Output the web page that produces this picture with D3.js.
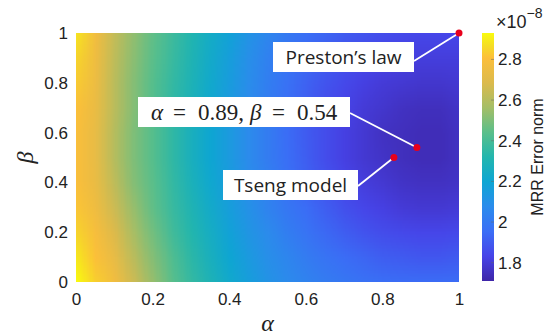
<!DOCTYPE html>
<html>
<head>
<meta charset="utf-8">
<script src="https://cdn.jsdelivr.net/npm/d3@7"></script>
<style>
  body { margin: 0; background: #fff; }
  svg text { font-family: "Liberation Sans", Arial, sans-serif; fill: #222; }
</style>
</head>
<body>
<svg id="chart" width="554" height="335"></svg>
<script>
// grid of the sweep (alpha across, beta from top row to bottom row)
const alphaGrid = [0, 0.05, 0.1, 0.15, 0.2, 0.25, 0.3, 0.35, 0.4, 0.45, 0.5,
                   0.55, 0.6, 0.65, 0.7, 0.75, 0.8, 0.85, 0.9, 0.95, 1];
const betaGrid = [1, 0.9, 0.8, 0.7, 0.6, 0.5, 0.4, 0.3, 0.2, 0.1, 0];

// MRR error norm, x1e-8, one row per beta
const errorNorm = [
  [2.88, 2.77, 2.63, 2.53, 2.45, 2.38, 2.31, 2.24, 2.18, 2.11, 2.05, 2.00, 1.96, 1.93, 1.90, 1.88, 1.86, 1.85, 1.84, 1.84, 1.84],
  [2.85, 2.76, 2.62, 2.52, 2.44, 2.37, 2.30, 2.23, 2.16, 2.09, 2.03, 1.98, 1.94, 1.90, 1.87, 1.85, 1.83, 1.82, 1.81, 1.81, 1.81],
  [2.83, 2.75, 2.61, 2.51, 2.43, 2.36, 2.29, 2.22, 2.15, 2.08, 2.02, 1.97, 1.92, 1.88, 1.85, 1.82, 1.80, 1.79, 1.78, 1.78, 1.79],
  [2.81, 2.74, 2.61, 2.51, 2.43, 2.35, 2.28, 2.21, 2.14, 2.07, 2.01, 1.96, 1.91, 1.86, 1.83, 1.80, 1.78, 1.76, 1.75, 1.75, 1.77],
  [2.80, 2.73, 2.60, 2.50, 2.43, 2.35, 2.27, 2.20, 2.14, 2.07, 2.01, 1.95, 1.90, 1.86, 1.82, 1.79, 1.76, 1.75, 1.74, 1.74, 1.76],
  [2.80, 2.73, 2.60, 2.50, 2.43, 2.35, 2.27, 2.20, 2.14, 2.07, 2.01, 1.96, 1.91, 1.86, 1.82, 1.79, 1.77, 1.75, 1.74, 1.74, 1.76],
  [2.80, 2.74, 2.62, 2.51, 2.44, 2.36, 2.28, 2.21, 2.15, 2.08, 2.03, 1.97, 1.92, 1.88, 1.84, 1.81, 1.79, 1.77, 1.76, 1.76, 1.77],
  [2.82, 2.76, 2.65, 2.54, 2.45, 2.37, 2.30, 2.23, 2.16, 2.10, 2.04, 1.99, 1.95, 1.91, 1.87, 1.84, 1.82, 1.80, 1.79, 1.79, 1.80],
  [2.85, 2.79, 2.69, 2.57, 2.48, 2.39, 2.32, 2.25, 2.18, 2.12, 2.07, 2.02, 1.98, 1.94, 1.91, 1.88, 1.86, 1.85, 1.84, 1.84, 1.85],
  [2.89, 2.81, 2.73, 2.61, 2.51, 2.42, 2.34, 2.27, 2.20, 2.14, 2.09, 2.05, 2.01, 1.98, 1.95, 1.93, 1.91, 1.90, 1.89, 1.89, 1.90],
  [2.93, 2.84, 2.77, 2.65, 2.54, 2.44, 2.36, 2.29, 2.22, 2.16, 2.11, 2.07, 2.04, 2.01, 1.99, 1.97, 1.96, 1.95, 1.95, 1.95, 1.95]
];

const axisTicks = [0, 0.2, 0.4, 0.6, 0.8, 1];
const colorTicks = [1.8, 2, 2.2, 2.4, 2.6, 2.8];
const colorDomain = [1.71, 2.93];

// highlighted parameter pairs
const markerAlpha = [1, 0.89, 0.83];
const markerBeta = [1, 0.54, 0.5];
const markerLabels = ['Preston\u2019s law', 'alpha-beta', 'Tseng model'];

// parula-like stops
const parulaStops = [0, 0.1, 0.2, 0.3, 0.4, 0.5, 0.6, 0.7, 0.8, 0.9, 0.95, 1];
const parulaColors = ['#3e26a8', '#4743e8', '#3b6ef6', '#2b8cec', '#0ea6d3', '#23b6ad',
                      '#5bbf8a', '#a5be66', '#dcba4c', '#fcbf3a', '#f5de24', '#f9fb0e'];

const svg = d3.select('#chart');
const plot = {left: 76, right: 459, top: 33, bottom: 282};

const x = d3.scaleLinear().domain([0, 1]).range([plot.left, plot.right]);
const y = d3.scaleLinear().domain([0, 1]).range([plot.bottom, plot.top]);
const t = d3.scaleLinear().domain(colorDomain).range([0, 1]);
const parula = d3.scaleLinear().domain(parulaStops).range(parulaColors).clamp(true);
const color = v => parula(t(v));

// heat map: one canvas pixel per grid cell, smoothed when scaled up
const canvas = document.createElement('canvas');
canvas.width = alphaGrid.length;
canvas.height = betaGrid.length;
const ctx = canvas.getContext('2d');
errorNorm.forEach((row, j) => row.forEach((v, i) => {
  ctx.fillStyle = color(v);
  ctx.fillRect(i, j, 1, 1);
}));

const halfA = (alphaGrid[1] - alphaGrid[0]) / 2;
const halfB = (betaGrid[0] - betaGrid[1]) / 2;

svg.append('defs').append('clipPath')
  .attr('id', 'plot-clip')
  .append('rect')
  .attr('x', x(0)).attr('y', y(1))
  .attr('width', x(1) - x(0)).attr('height', y(0) - y(1));

svg.append('g')
  .attr('clip-path', 'url(#plot-clip)')
  .append('image')
  .attr('href', canvas.toDataURL())
  .attr('preserveAspectRatio', 'none')
  .attr('x', x(alphaGrid[0] - halfA))
  .attr('y', y(betaGrid[0] + halfB))
  .attr('width', x(1 + halfA) - x(-halfA))
  .attr('height', y(-halfB) - y(1 + halfB))
  .style('image-rendering', 'auto');

// axis tick labels
const xAxis = svg.append('g')
  .attr('transform', `translate(0, ${plot.bottom})`)
  .call(d3.axisBottom(x).tickValues(axisTicks).tickFormat(d3.format('')).tickSize(0).tickPadding(11));
const yAxis = svg.append('g')
  .attr('transform', `translate(${plot.left}, 0)`)
  .call(d3.axisLeft(y).tickValues(axisTicks).tickFormat(d3.format('')).tickSize(0).tickPadding(8));
[xAxis, yAxis].forEach(g => {
  g.select('.domain').remove();
  g.selectAll('text').attr('fill', '#222').style('font-size', '17px')
    .style('font-family', '"Liberation Sans", Arial, sans-serif');
});

// axis titles
svg.append('text')
  .attr('x', x(0.5)).attr('y', 331)
  .attr('text-anchor', 'middle')
  .style('font-family', '"Liberation Serif", serif')
  .style('font-style', 'italic')
  .style('font-size', '24px')
  .text('\u03b1');
svg.append('text')
  .attr('transform', `translate(33, ${y(0.5)}) rotate(-90)`)
  .attr('text-anchor', 'middle')
  .style('font-family', '"Liberation Serif", serif')
  .style('font-style', 'italic')
  .style('font-size', '24px')
  .text('\u03b2');

// colorbar
const cb = d3.scaleLinear().domain(colorDomain).range([281, 33]);
const grad = svg.select('defs').append('linearGradient')
  .attr('id', 'cb-grad')
  .attr('x1', 0).attr('y1', 1).attr('x2', 0).attr('y2', 0);
grad.selectAll('stop')
  .data(parulaStops)
  .join('stop')
  .attr('offset', d => d)
  .attr('stop-color', (d, i) => parulaColors[i]);

svg.append('rect')
  .attr('x', 482).attr('y', cb(colorDomain[1]))
  .attr('width', 12).attr('height', cb(colorDomain[0]) - cb(colorDomain[1]))
  .attr('fill', 'url(#cb-grad)');

const cbAxis = svg.append('g')
  .attr('transform', 'translate(494, 0)')
  .call(d3.axisRight(cb).tickValues(colorTicks).tickFormat(d3.format('')).tickSize(0).tickPadding(4));
cbAxis.select('.domain').remove();
cbAxis.selectAll('text').attr('fill', '#222').style('font-size', '17px')
  .style('font-family', '"Liberation Sans", Arial, sans-serif');
svg.append('g').selectAll('line')
  .data(colorTicks)
  .join('line')
  .attr('x1', 491).attr('x2', 494)
  .attr('y1', d => cb(d)).attr('y2', d => cb(d))
  .attr('stroke', '#666').attr('stroke-opacity', 0.5);

const expo = svg.append('text')
  .attr('x', 496).attr('y', 28)
  .style('font-size', '18px');
expo.append('tspan').text('\u00d710');
expo.append('tspan').attr('dy', -10).style('font-size', '14px').text('\u22128');

svg.append('text')
  .attr('transform', `translate(543, ${cb(2.32)}) rotate(-90)`)
  .attr('text-anchor', 'middle')
  .style('font-size', '16px')
  .text('MRR Error norm');

// annotation boxes (pixel layout) with leader lines to the points
const boxes = [
  {x: 273, y: 42, w: 141, h: 30, lx: 414, ly: 61},
  {x: 138, y: 97, w: 212, h: 30, lx: 350, ly: 113},
  {x: 223, y: 170, w: 135, h: 30, lx: 358, ly: 186}
];

const notes = svg.append('g');
boxes.forEach((b, i) => {
  notes.append('line')
    .attr('x1', b.lx).attr('y1', b.ly)
    .attr('x2', x(markerAlpha[i])).attr('y2', y(markerBeta[i]))
    .attr('stroke', '#fff').attr('stroke-width', 1.8);
  notes.append('rect')
    .attr('x', b.x).attr('y', b.y).attr('width', b.w).attr('height', b.h)
    .attr('fill', '#fff');
  if (markerLabels[i] === 'alpha-beta') {
    const tx = notes.append('text')
      .attr('y', b.y + 23)
      .style('font-family', '"Liberation Serif", serif')
      .style('font-size', '23px');
    const parts = [
      {dx: 13, s: '\u03b1', it: true},
      {dx: 35, s: '='},
      {dx: 60, s: '0.' + String(markerAlpha[i]).slice(2) + ','},
      {dx: 112, s: '\u03b2', it: true},
      {dx: 134, s: '='},
      {dx: 159, s: '0.' + String(markerBeta[i]).slice(2)}
    ];
    parts.forEach(p => tx.append('tspan')
      .attr('x', b.x + p.dx)
      .style('font-style', p.it ? 'italic' : 'normal')
      .text(p.s));
  } else {
    notes.append('text')
      .attr('x', b.x + b.w / 2).attr('y', b.y + 22)
      .attr('text-anchor', 'middle')
      .style('font-family', '"Open Sans", sans-serif')
      .style('font-size', '19px')
      .attr('fill', '#111')
      .text(markerLabels[i]);
  }
});

notes.selectAll('circle')
  .data(markerAlpha)
  .join('circle')
  .attr('cx', d => x(d))
  .attr('cy', (d, i) => y(markerBeta[i]))
  .attr('r', 3.5)
  .attr('fill', '#e8001c');
</script>
</body>
</html>
